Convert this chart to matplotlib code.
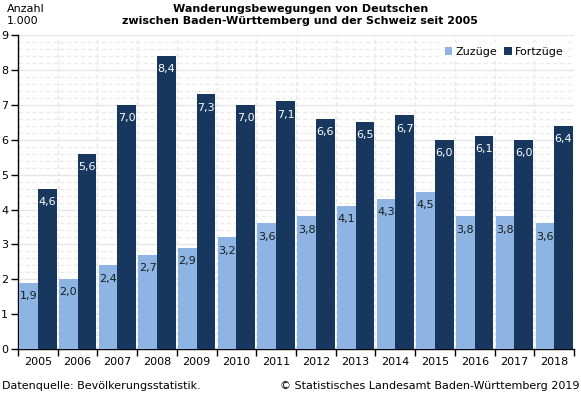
import numpy as np
import matplotlib.pyplot as plt
from matplotlib.ticker import MultipleLocator

# Daten (in 1.000)
jahre = ['2005', '2006', '2007', '2008', '2009', '2010', '2011',
         '2012', '2013', '2014', '2015', '2016', '2017', '2018']
zuzuege = [1.9, 2.0, 2.4, 2.7, 2.9, 3.2, 3.6, 3.8, 4.1, 4.3, 4.5, 3.8, 3.8, 3.6]
fortzuege = [4.6, 5.6, 7.0, 8.4, 7.3, 7.0, 7.1, 6.6, 6.5, 6.7, 6.0, 6.1, 6.0, 6.4]

hell = '#8db4e2'
dunkel = '#17375e'

plt.rcParams['font.family'] = ['DejaVu Sans']
plt.rcParams['font.size'] = 8

fig = plt.figure(figsize=(5.81, 3.94), dpi=100)
ax = fig.add_axes([0.031, 0.114, 0.957, 0.797])

x = np.arange(len(jahre))
b = 0.47
bars1 = ax.bar(x - b / 2, zuzuege, width=b, color=hell, label='Zuzüge', zorder=3)
bars2 = ax.bar(x + b / 2, fortzuege, width=b, color=dunkel, label='Fortzüge', zorder=3)

# Werte in die Balken schreiben
for rect, v in zip(bars1, zuzuege):
    ax.annotate(f'{v:.1f}'.replace('.', ','), (rect.get_x() + rect.get_width() / 2, v),
                xytext=(0, -9.5), textcoords='offset points', ha='center', va='center',
                color='#1a1a1a', fontsize=8, zorder=4)
for rect, v in zip(bars2, fortzuege):
    ax.annotate(f'{v:.1f}'.replace('.', ','), (rect.get_x() + rect.get_width() / 2, v),
                xytext=(0, -9.5), textcoords='offset points', ha='center', va='center',
                color='white', fontsize=8, zorder=4)

ax.set_xlim(-0.5, len(jahre) - 0.5)
ax.set_ylim(0, 9)
ax.yaxis.set_major_locator(MultipleLocator(1))
ax.yaxis.set_minor_locator(MultipleLocator(0.2))

# X-Achse: Beschriftung mittig, Striche an den Grenzen
ax.set_xticks(x)
ax.set_xticklabels(jahre)
ax.set_xticks(np.arange(-0.5, len(jahre)), minor=True)
ax.tick_params(axis='x', which='major', length=0, pad=6)
ax.tick_params(axis='x', which='minor', length=5, width=1, direction='out')
ax.tick_params(axis='y', which='major', length=5, width=1, direction='out', pad=2)
ax.tick_params(axis='y', which='minor', length=0)

ax.grid(axis='y', which='major', color='#e6e6e6', linewidth=1, zorder=0)
ax.grid(axis='y', which='minor', color='#ebebeb', linewidth=1, linestyle=(0, (3, 2)), zorder=0)
ax.grid(axis='x', which='minor', color='#e6e6e6', linewidth=1, linestyle=(0, (3, 2)), zorder=0)

for s in ['top', 'right']:
    ax.spines[s].set_visible(False)
for s in ['left', 'bottom']:
    ax.spines[s].set_color('black')
    ax.spines[s].set_linewidth(1)

leg = ax.legend(loc='upper right', bbox_to_anchor=(1.0, 0.995), ncol=2, frameon=True,
                handlelength=0.7, handleheight=0.7, handletextpad=0.3, columnspacing=0.6,
                fontsize=8, borderpad=0.4, fancybox=False)
leg.get_frame().set_edgecolor('none')
leg.get_frame().set_facecolor('white')

# Titel und Beschriftungen
fig.text(0.517, 0.99, 'Wanderungsbewegungen von Deutschen\nzwischen Baden-Württemberg und der Schweiz seit 2005',
         ha='center', va='top', fontsize=8, fontweight='bold', linespacing=1.2)
fig.text(0.012, 0.99, 'Anzahl\n1.000', ha='left', va='top', fontsize=8, linespacing=1.2)
fig.text(0.003, 0.008, 'Datenquelle: Bevölkerungsstatistik.', ha='left', va='bottom', fontsize=8)
fig.text(0.997, 0.008, '© Statistisches Landesamt Baden-Württemberg 2019', ha='right', va='bottom', fontsize=8)

fig.savefig('out.png', dpi=100)
